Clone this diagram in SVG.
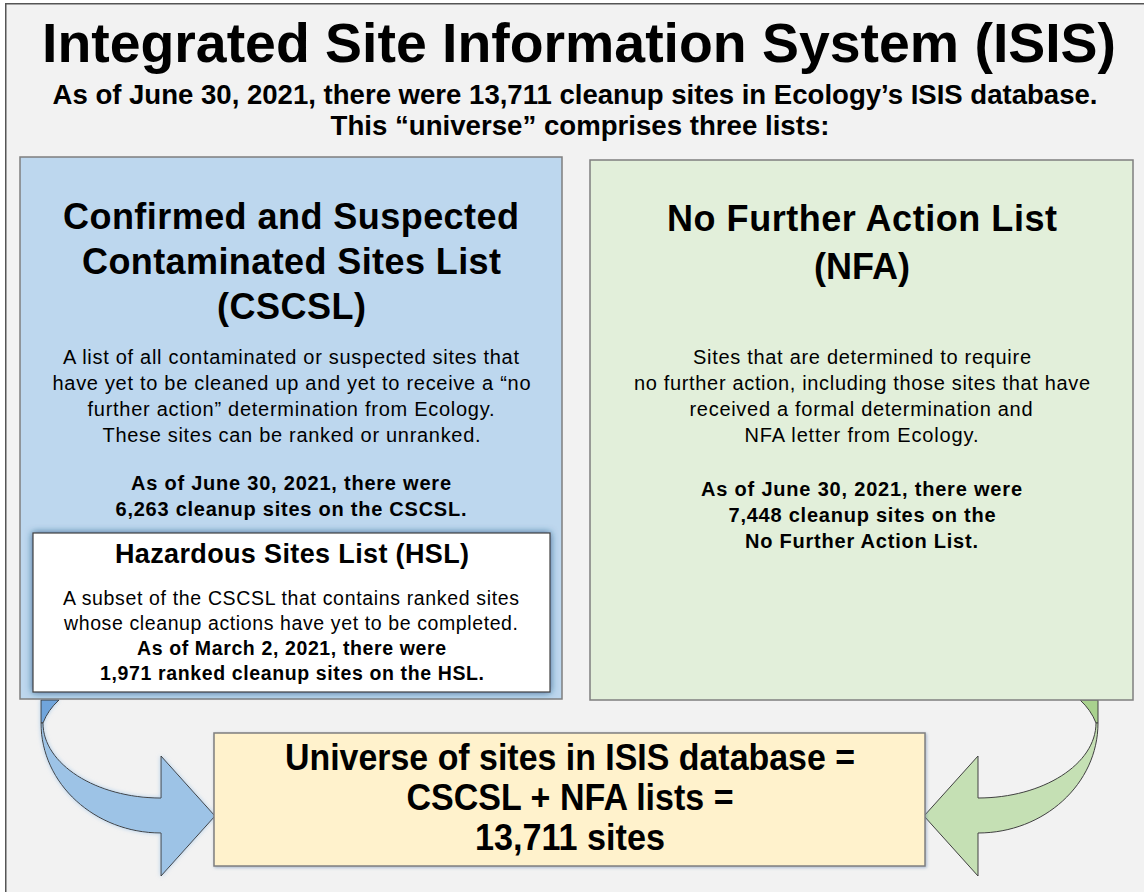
<svg xmlns="http://www.w3.org/2000/svg" width="1144" height="892" viewBox="0 0 1144 892">
<defs>
<style>
.t{font-family:"Liberation Sans",Arial,sans-serif;fill:#000;text-anchor:middle}
.b{font-weight:bold}
.h{font-weight:bold;font-size:36px}
.p{font-size:20px}
.q{font-size:19.5px}
.box{stroke:#7f7f7f;stroke-width:1.5}
.arr{stroke:#404040;stroke-width:1}
</style>
<filter id="glow" x="-10%" y="-20%" width="120%" height="140%">
<feDropShadow dx="0" dy="0" stdDeviation="3.5" flood-color="#1f4e79" flood-opacity="0.8"/>
</filter>
<filter id="soft" x="-10%" y="-10%" width="120%" height="120%">
<feDropShadow dx="1" dy="1" stdDeviation="1.5" flood-color="#5b7fa8" flood-opacity="0.5"/>
</filter>
<filter id="ashadow" x="-20%" y="-20%" width="140%" height="140%">
<feDropShadow dx="0" dy="0" stdDeviation="2" flood-color="#9dc3e6" flood-opacity="0.8"/>
</filter>
</defs>
<rect x="0" y="0" width="1144" height="892" fill="#ffffff"/>
<rect x="5" y="3" width="1139" height="889" fill="#f2f2f2"/>
<path d="M5.75,892 V3.75 H1144" fill="none" stroke="#555" stroke-width="1.5"/>

<g id="header">
<text class="t b" x="579" y="62" font-size="56" textLength="1074" lengthAdjust="spacingAndGlyphs">Integrated Site Information System (ISIS)</text>
<text class="t b" x="575" y="104" font-size="28" textLength="1045" lengthAdjust="spacingAndGlyphs">As of June 30, 2021, there were 13,711 cleanup sites in Ecology’s ISIS database.</text>
<text class="t b" x="580" y="135" font-size="28" textLength="499" lengthAdjust="spacingAndGlyphs">This “universe” comprises three lists:</text>
</g>

<g id="connectors">
<g id="arrow-left" filter="url(#ashadow)">
<path class="arr" fill="#6fa5dc" d="M41,700 L59,700 Q48,710 43,723 L41,723 Z"/>
<path class="arr" fill="#9dc3e6" d="M43,723 C43,764 96,798 161,798 L161,756 L215,816 L161,876 L161,833 C95,833 41,784 41,723 Z"/>
</g>
<g id="arrow-right" transform="translate(1139,0) scale(-1,1)">
<path class="arr" fill="#a9d18e" d="M41,700 L59,700 Q48,710 43,723 L41,723 Z"/>
<path class="arr" fill="#c5e0b4" d="M43,723 C43,764 96,798 161,798 L161,756 L215,816 L161,876 L161,833 C95,833 41,784 41,723 Z"/>
</g>
</g>

<g id="cscsl">
<rect class="box" x="20" y="157" width="542" height="542" fill="#bdd7ee"/>
<text class="t h" x="291" y="229" textLength="456" lengthAdjust="spacing">Confirmed and Suspected</text>
<text class="t h" x="291.5" y="274" textLength="419" lengthAdjust="spacing">Contaminated Sites List</text>
<text class="t h" x="291.5" y="319" textLength="149" lengthAdjust="spacing">(CSCSL)</text>
<text class="t p" x="291" y="364" textLength="456" lengthAdjust="spacing">A list of all contaminated or suspected sites that</text>
<text class="t p" x="291.5" y="390" textLength="478" lengthAdjust="spacing">have yet to be cleaned up and yet to receive a “no</text>
<text class="t p" x="291" y="416" textLength="407" lengthAdjust="spacing">further action” determination from Ecology.</text>
<text class="t p" x="291.5" y="442" textLength="378" lengthAdjust="spacing">These sites can be ranked or unranked.</text>
<text class="t p b" x="291" y="490" textLength="320" lengthAdjust="spacing">As of June 30, 2021, there were</text>
<text class="t p b" x="291" y="516" textLength="351" lengthAdjust="spacing">6,263 cleanup sites on the CSCSL.</text>
</g>

<g id="hsl">
<rect x="33" y="533" width="517" height="159" fill="#ffffff" stroke="#404040" stroke-width="1.2" filter="url(#glow)"/>
<text class="t b" x="292" y="563" font-size="27" textLength="354" lengthAdjust="spacing">Hazardous Sites List (HSL)</text>
<text class="t q" x="291" y="605" textLength="456" lengthAdjust="spacing">A subset of the CSCSL that contains ranked sites</text>
<text class="t q" x="291" y="630" textLength="454" lengthAdjust="spacing">whose cleanup actions have yet to be completed.</text>
<text class="t q b" x="291.5" y="655" textLength="309" lengthAdjust="spacing">As of March 2, 2021, there were</text>
<text class="t q b" x="292" y="680" textLength="384" lengthAdjust="spacing">1,971 ranked cleanup sites on the HSL.</text>
</g>

<g id="nfa">
<rect class="box" x="590" y="160" width="543" height="540" fill="#e2efda"/>
<text class="t h" x="862" y="231" textLength="390" lengthAdjust="spacing">No Further Action List</text>
<text class="t h" x="862" y="279" textLength="96" lengthAdjust="spacing">(NFA)</text>
<text class="t p" x="862" y="364" textLength="338" lengthAdjust="spacing">Sites that are determined to require</text>
<text class="t p" x="862" y="390" textLength="456" lengthAdjust="spacing">no further action, including those sites that have</text>
<text class="t p" x="861" y="416" textLength="343" lengthAdjust="spacing">received a formal determination and</text>
<text class="t p" x="861.5" y="442" textLength="234" lengthAdjust="spacing">NFA letter from Ecology.</text>
<text class="t p b" x="861.5" y="496" textLength="321" lengthAdjust="spacing">As of June 30, 2021, there were</text>
<text class="t p b" x="862" y="522" textLength="267" lengthAdjust="spacing">7,448 cleanup sites on the</text>
<text class="t p b" x="861.5" y="548" textLength="233" lengthAdjust="spacing">No Further Action List.</text>
</g>

<g id="universe">
<rect class="box" x="214" y="733" width="711" height="133" fill="#fff2cc" filter="url(#soft)"/>
<text class="t b" x="570" y="770" font-size="37" textLength="570" lengthAdjust="spacingAndGlyphs">Universe of sites in ISIS database =</text>
<text class="t b" x="570" y="810" font-size="37" textLength="327" lengthAdjust="spacingAndGlyphs">CSCSL + NFA lists =</text>
<text class="t b" x="570" y="850" font-size="37" textLength="190" lengthAdjust="spacingAndGlyphs">13,711 sites</text>
</g>
</svg>
